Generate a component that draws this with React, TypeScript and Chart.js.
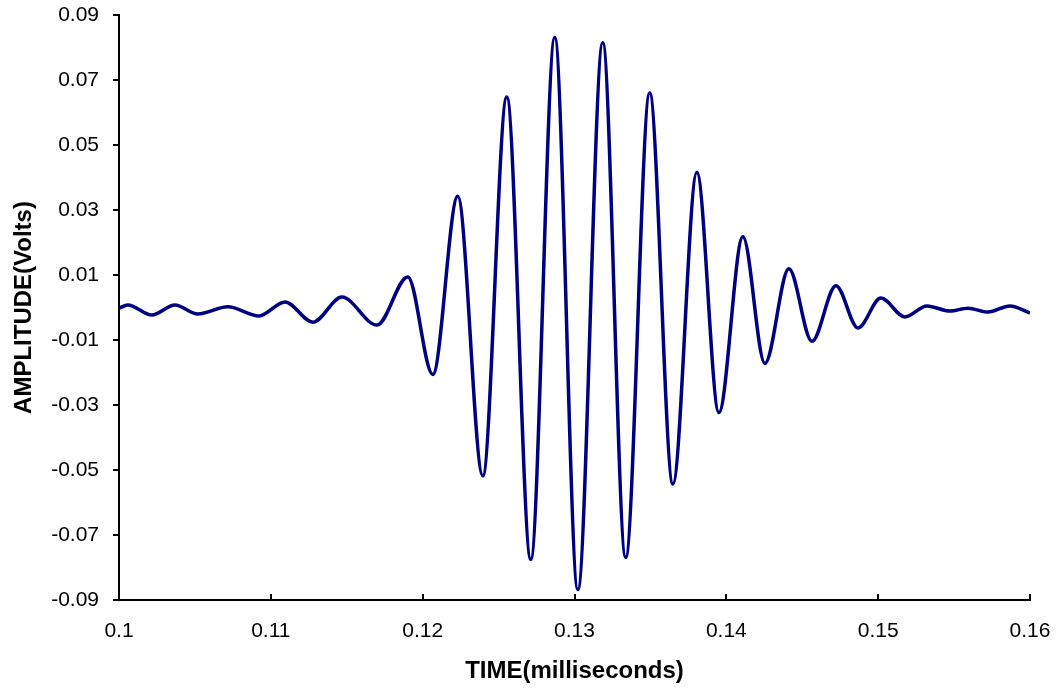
import React, { useEffect, useRef } from "react";
import { Chart, registerables } from "chart.js";

Chart.register(...registerables);

// Time in milliseconds (extremes of the recorded waveform)
const timeMs = [
  0.1, 0.10058, 0.10216, 0.10368, 0.10519, 0.10717, 0.10922, 0.11093, 0.11277,
  0.11468, 0.11699, 0.11902, 0.12067, 0.12231, 0.12396, 0.12554, 0.12712,
  0.1287, 0.13022, 0.13186, 0.13337, 0.13495, 0.13648, 0.13806, 0.13951,
  0.14109, 0.14254, 0.14412, 0.14564, 0.14722, 0.14867, 0.15018, 0.15176,
  0.15321, 0.15473, 0.15592, 0.15723, 0.15868, 0.16,
];

// Amplitude in volts
const amplitudeV = [
  -0.0002, 0.0008, -0.0023, 0.0008, -0.002, 0.0002, -0.0026, 0.0017, -0.0045,
  0.0032, -0.0054, 0.0094, -0.0206, 0.0342, -0.0518, 0.0648, -0.0775,
  0.0831, -0.0868, 0.0815, -0.0769, 0.066, -0.0543, 0.0416, -0.0323,
  0.0218, -0.0172, 0.0119, -0.0104, 0.0067, -0.0063, 0.0029, -0.0029,
  0.0005, -0.0011, -0.0002, -0.0014, 0.0005, -0.0017,
];

const xTicks = [0.1, 0.11, 0.12, 0.13, 0.14, 0.15, 0.16];
const xTickLabels = ["0.1", "0.11", "0.12", "0.13", "0.14", "0.15", "0.16"];
const yTicks = [-0.09, -0.07, -0.05, -0.03, -0.01, 0.01, 0.03, 0.05, 0.07, 0.09];
const yTickLabels = ["-0.09", "-0.07", "-0.05", "-0.03", "-0.01", "0.01", "0.03", "0.05", "0.07", "0.09"];

const xTitle = "TIME(milliseconds)";
const yTitle = "AMPLITUDE(Volts)";

const FONT = "'Liberation Sans', Arial, sans-serif";

// draws the x-axis tick marks pointing into the plot area
const innerXTicks = {
  id: "innerXTicks",
  afterDraw(chart: any) {
    const s = chart.scales.x;
    const ctx = chart.ctx;
    const b = chart.chartArea.bottom;
    ctx.save();
    ctx.strokeStyle = "#000";
    ctx.lineWidth = 2;
    ctx.beginPath();
    for (const v of xTicks) {
      const px = Math.round(s.getPixelForValue(v));
      ctx.moveTo(px, b + 1);
      ctx.lineTo(px, b - 6);
    }
    ctx.stroke();
    ctx.restore();
  },
};

export default function App() {
  const ref = useRef<HTMLCanvasElement | null>(null);

  useEffect(() => {
    document.body.style.margin = "0";
    const canvas = ref.current;
    if (!canvas) return;
    const points = timeMs.map((t, i) => ({ x: t, y: amplitudeV[i] }));
    const chart = new Chart(canvas, {
      type: "line",
      data: {
        datasets: [
          {
            data: points,
            borderColor: "#000080",
            borderWidth: 3.5,
            pointRadius: 0,
            fill: false,
            cubicInterpolationMode: "monotone",
          },
        ],
      },
      options: {
        animation: false,
        responsive: false,
        maintainAspectRatio: false,
        layout: { padding: { left: 0, right: 32, top: 15, bottom: 0 } },
        plugins: { legend: { display: false }, tooltip: { enabled: false } },
        scales: {
          x: {
            type: "linear",
            position: "bottom",
            min: 0.1,
            max: 0.16,
            afterBuildTicks: (s: any) => {
              s.ticks = xTicks.map((v) => ({ value: v }));
            },
            afterFit: (s: any) => {
              s.height = 89;
              s.paddingLeft = 0;
              s.paddingRight = 0;
            },
            grid: {
              drawOnChartArea: false,
              drawTicks: false,
              color: "#000",
              lineWidth: 2,
            },
            border: { display: true, color: "#000", width: 2 },
            ticks: {
              autoSkip: false,
              maxRotation: 0,
              padding: 19,
              color: "#000",
              font: { family: FONT, size: 21 },
              callback: (_v: any, i: number) => xTickLabels[i],
            },
            title: {
              display: true,
              text: xTitle,
              color: "#000",
              font: { family: FONT, size: 24, weight: "bold" },
              padding: { top: 0, bottom: 3 },
            },
          },
          y: {
            type: "linear",
            min: -0.09,
            max: 0.09,
            afterBuildTicks: (s: any) => {
              s.ticks = yTicks.map((v) => ({ value: v }));
            },
            afterFit: (s: any) => {
              s.width = 119;
              s.paddingTop = 0;
              s.paddingBottom = 0;
            },
            grid: {
              drawOnChartArea: false,
              drawTicks: true,
              tickLength: 6,
              color: "#000",
              lineWidth: 2,
            },
            border: { display: true, color: "#000", width: 2 },
            ticks: {
              autoSkip: false,
              padding: 14,
              color: "#000",
              font: { family: FONT, size: 21 },
              callback: (_v: any, i: number) => yTickLabels[i],
            },
            title: {
              display: true,
              text: yTitle,
              color: "#000",
              font: { family: FONT, size: 24, weight: "bold" },
              padding: { top: 10, bottom: 0 },
            },
          },
        },
      },
      plugins: [innerXTicks],
    });
    return () => chart.destroy();
  }, []);

  return (
    <canvas
      ref={ref}
      width={1062}
      height={689}
      style={{ display: "block", width: 1062, height: 689 }}
    />
  );
}
